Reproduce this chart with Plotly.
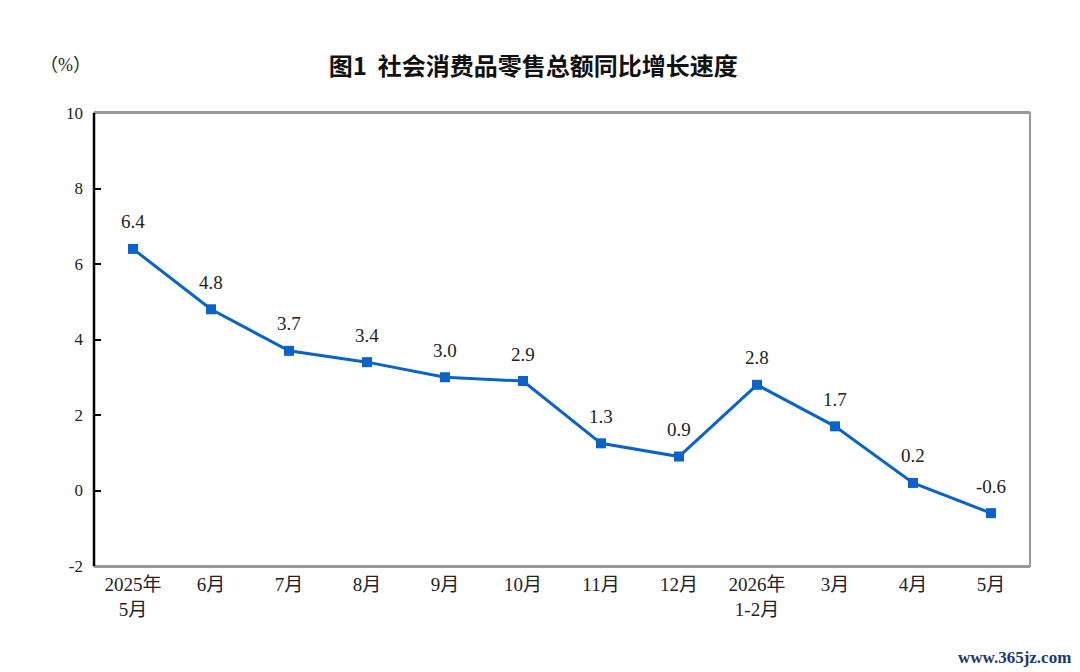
import plotly.graph_objects as go

# 社会消费品零售总额同比增长速度（%）
months = ["2025年<br>5月", "6月", "7月", "8月", "9月", "10月", "11月", "12月",
          "2026年<br>1-2月", "3月", "4月", "5月"]
growth = [6.4, 4.8, 3.7, 3.4, 3.0, 2.9, 1.25, 0.9, 2.8, 1.7, 0.2, -0.6]
labels = ["6.4", "4.8", "3.7", "3.4", "3.0", "2.9", "1.3", "0.9", "2.8", "1.7", "0.2", "-0.6"]
y_ticks = [-2, 0, 2, 4, 6, 8, 10]
y_ticktext = ["-2", "0", "2", "4", "6", "8", "10"]

blue = "#0a64c8"
num_font = "Liberation Serif, Noto Sans CJK SC, serif"

fig = go.Figure()
fig.add_trace(go.Scatter(
    x=list(range(len(months))),
    y=growth,
    mode="lines+markers",
    line=dict(color=blue, width=3),
    marker=dict(symbol="square", size=10, color=blue),
    hoverinfo="skip",
))

# data labels above each point
for i, (v, t) in enumerate(zip(growth, labels)):
    fig.add_annotation(x=i, y=v, text=t, showarrow=False, yshift=27,
                       font=dict(family=num_font, size=19, color="#222"))

# page body has an 8px margin at top/left, so the figure is 8px smaller
fig.update_layout(
    width=1072, height=664,
    margin=dict(l=86, r=50, t=105, b=106),
    paper_bgcolor="white", plot_bgcolor="white",
    showlegend=False,
    title=dict(text="<b>图1  社会消费品零售总额同比增长速度</b>", x=0.49, xanchor="center",
               y=0.912, yanchor="middle",
               font=dict(family="Noto Sans CJK SC", size=24, color="#111")),
)

fig.update_xaxes(
    range=[-0.5, len(months) - 0.5],
    tickmode="array", tickvals=list(range(len(months))), ticktext=months,
    showgrid=False, zeroline=False, ticks="",
    showline=True, linecolor="#999", linewidth=2, mirror=True,
    tickfont=dict(family=num_font, size=19, color="#222"),
)
fig.update_yaxes(
    range=[-2, 10], tickmode="array", tickvals=y_ticks, ticktext=y_ticktext,
    showgrid=False, zeroline=False,
    ticks="inside", ticklen=7, tickcolor="#000", tickwidth=2,
    ticklabelstandoff=10,
    showline=False,
    tickfont=dict(family=num_font, size=17, color="#222"),
)

# gray frame, black left axis line
fig.add_shape(type="rect", xref="paper", yref="paper", x0=0, x1=1, y0=0, y1=1,
              line=dict(color="#999", width=2), layer="below")
fig.add_shape(type="line", xref="paper", yref="paper", x0=0, x1=0, y0=0, y1=1,
              line=dict(color="#000", width=2.5))

fig.add_annotation(text="（%）", xref="paper", yref="paper", x=-0.03, y=1.106,
                   showarrow=False, xanchor="center", yanchor="middle",
                   font=dict(family=num_font, size=18, color="#222"))
fig.add_annotation(text="<b>www.365jz.com</b>", xref="paper", yref="paper", x=1.046, y=-0.201,
                   showarrow=False, xanchor="right", yanchor="middle",
                   font=dict(family="Liberation Serif", size=17, color="#1a3a6e"))

fig.write_html("out.html")
